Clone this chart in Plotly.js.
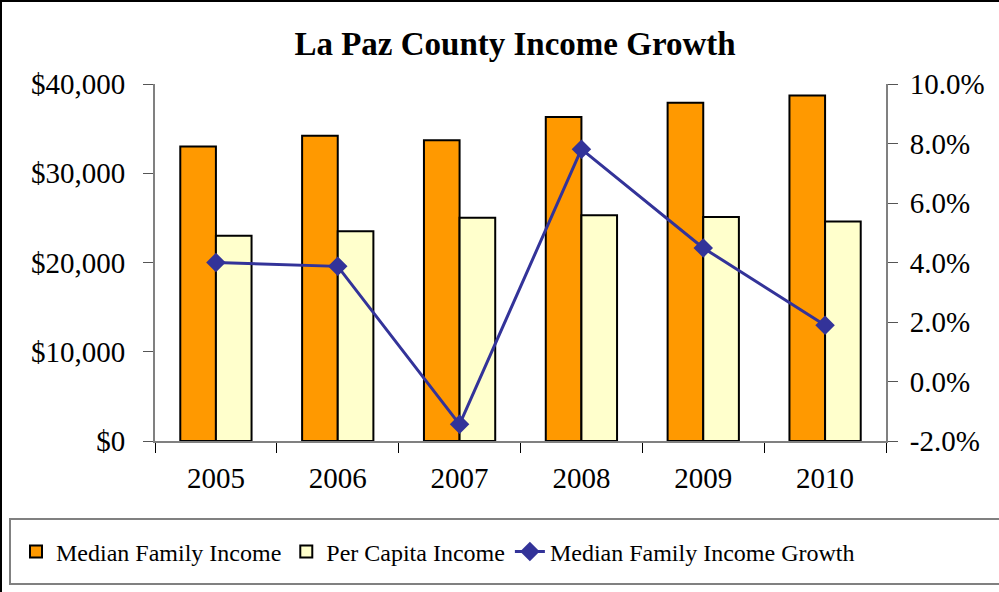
<!DOCTYPE html>
<html>
<head>
<meta charset="utf-8">
<script src="https://cdn.plot.ly/plotly-3.0.1.min.js"></script>
<style>
  body { margin: 0; background: #fff; }
  #chart { width: 997px; height: 590px; border-left: 2px solid #000; border-top: 2px solid #000; }
</style>
</head>
<body>
<div id="chart"></div>
<script>
// La Paz County income data
const years = ["2005", "2006", "2007", "2008", "2009", "2010"];
const medianFamilyIncome = [33000, 34200, 33700, 36300, 37900, 38700];
const perCapitaIncome = [23000, 23500, 25000, 25300, 25100, 24600];
const medianIncomeGrowth = [0.040, 0.0387, -0.0144, 0.0781, 0.0449, 0.0189];

const growthTicks = [-0.02, 0, 0.02, 0.04, 0.06, 0.08, 0.10];
const growthTickText = ["-2.0%", "0.0%", "2.0%", "4.0%", "6.0%", "8.0%", "10.0%"];

const font = "Liberation Serif, Times New Roman, serif";

// plot area in page pixels (div is offset by 2px border)
const W = 997, H = 590;
const L = 153, R = 113, T = 82, B = 151;
const pw = W - L - R, ph = H - T - B;
function px(x) { return (x - 2 - L) / pw; }
function py(y) { return (H - B - (y - 2)) / ph; }

const data = [
    {
        x: years, y: medianFamilyIncome, type: "bar", name: "Median Family Income",
        marker: { color: "#FF9900", line: { color: "#000", width: 2 } }
    },
    {
        x: years, y: perCapitaIncome, type: "bar", name: "Per Capita Income",
        marker: { color: "#FFFFCC", line: { color: "#000", width: 2 } }
    },
    {
        x: years, y: medianIncomeGrowth, type: "scatter", mode: "lines+markers",
        name: "Median Family Income Growth", yaxis: "y2",
        line: { color: "#333399", width: 3 },
        marker: { symbol: "diamond", size: 15, color: "#333399" }
    }
];

const layout = {
    width: W, height: H,
    margin: { l: L, r: R, t: T, b: B, autoexpand: false },
    paper_bgcolor: "#fff", plot_bgcolor: "#fff",
    font: { family: font, color: "#000", size: 29 },
    title: {
        text: "<b>La Paz County Income Growth</b>",
        font: { family: font, size: 33, color: "#000" },
        xref: "paper", x: 0.4925, xanchor: "center",
        yref: "container", y: 0.93, yanchor: "middle"
    },
    barmode: "group", bargap: 0.415, bargroupgap: 0,
    xaxis: {
        type: "category", showline: true, linecolor: "#808080", linewidth: 2,
        ticks: "outside", tickson: "boundaries", ticklen: 10, tickcolor: "#000",
        showgrid: false, tickfont: { size: 29 }, ticklabelstandoff: 10
    },
    yaxis: {
        range: [0, 40000], dtick: 10000, tickprefix: "$", tickformat: ",d",
        showline: true, linecolor: "#808080", linewidth: 2,
        ticks: "outside", ticklen: 10, tickcolor: "#555", showgrid: false,
        zeroline: false, tickfont: { size: 29 }, ticklabelstandoff: 12
    },
    yaxis2: {
        overlaying: "y", side: "right", range: [-0.02, 0.10],
        tickmode: "array", tickvals: growthTicks, ticktext: growthTickText,
        showline: true, linecolor: "#808080", linewidth: 2,
        ticks: "outside", ticklen: 10, tickcolor: "#555", showgrid: false,
        zeroline: false, tickfont: { size: 29 }, ticklabelstandoff: 6
    },
    showlegend: true,
    legend: {
        orientation: "h", x: px(16), xanchor: "left", y: py(552), yanchor: "middle",
        font: { family: font, size: 24 }, borderwidth: 0, bgcolor: "rgba(0,0,0,0)"
    },
    shapes: [{
        type: "rect", xref: "paper", yref: "paper",
        x0: px(10), x1: px(1010), y0: py(519), y1: py(584),
        line: { color: "#808080", width: 2 }, fillcolor: "rgba(0,0,0,0)", layer: "below"
    }]
};

Plotly.newPlot("chart", data, layout, { displayModeBar: false });
</script>
</body>
</html>
